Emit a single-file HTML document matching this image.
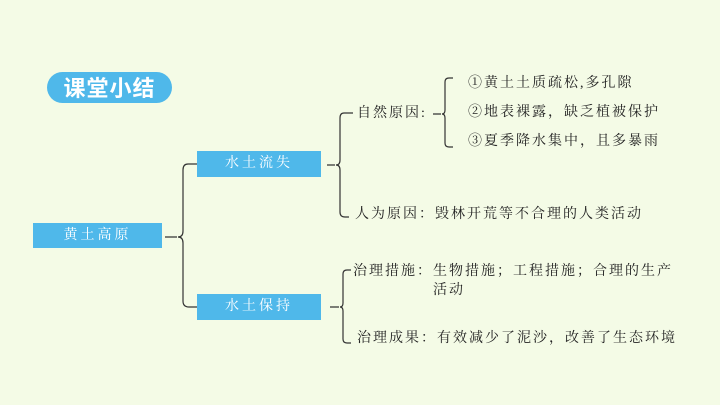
<!DOCTYPE html>
<html><head><meta charset="utf-8"><style>
body{margin:0;width:720px;height:405px;background:#f4fbe6;position:relative;overflow:hidden;font-family:"Liberation Serif","Noto Serif CJK SC",serif;}
.t{position:absolute;font-size:14px;color:#222;letter-spacing:2px;white-space:nowrap;line-height:16px}
.box{position:absolute;background:#4fb8ea;color:#fff;font-size:14px;letter-spacing:3px;text-align:center}
.pill{position:absolute;left:47px;top:72px;width:125px;height:31px;border-radius:16px;background:#4fb8ea;color:#fff;font:bold 22px "Noto Sans CJK SC",sans-serif;text-align:center;line-height:31px;letter-spacing:1px}
svg{position:absolute;left:0;top:0}
</style></head><body>
<div class="pill">课堂小结</div>
<div class="box" style="left:33px;top:223px;width:129px;height:25px;line-height:25px">黄土高原</div>
<div class="box" style="left:197px;top:151px;width:124px;height:26px;line-height:26px">水土流失</div>
<div class="box" style="left:197px;top:294px;width:124px;height:26px;line-height:26px">水土保持</div>
<svg width="720" height="405" fill="none" stroke="#333" stroke-width="1.2">
<path d="M165 237 H177 M197 164 H188 Q183 164 183 170 V231 Q183 237 178 237 Q183 237 183 243 V301 Q183 307 189 307 H197"/>
<path d="M327 165 H335 M353 113 H344 Q340 113 340 118 V160 Q340 165 336 165 Q340 165 340 170 V212 Q340 217 345 217 H349"/>
<path d="M433 114 H441 M453 78 H449 Q445 78 445 82 V110 Q445 114 442 114 Q445 114 445 118 V143 Q445 147 449 147 H453"/>
<path d="M330 307 H339 M351 270 H347 Q343 270 343 274 V303 Q343 307 340 307 Q343 307 343 311 V339 Q343 343 347 343 H351"/>
</svg>
<div class="t" style="left:357px;top:106px">自然原因:</div>
<div class="t" style="left:468px;top:76px">①黄土土质疏松,多孔隙</div>
<div class="t" style="left:468px;top:105px">②地表裸露，缺乏植被保护</div>
<div class="t" style="left:468px;top:134px">③夏季降水集中，且多暴雨</div>
<div class="t" style="left:355px;top:207px">人为原因：毁林开荒等不合理的人类活动</div>
<div class="t" style="left:353px;top:264px">治理措施：生物措施；工程措施；合理的生产</div>
<div class="t" style="left:433px;top:283px">活动</div>
<div class="t" style="left:357px;top:331px">治理成果：有效减少了泥沙，改善了生态环境</div>
</body></html>
